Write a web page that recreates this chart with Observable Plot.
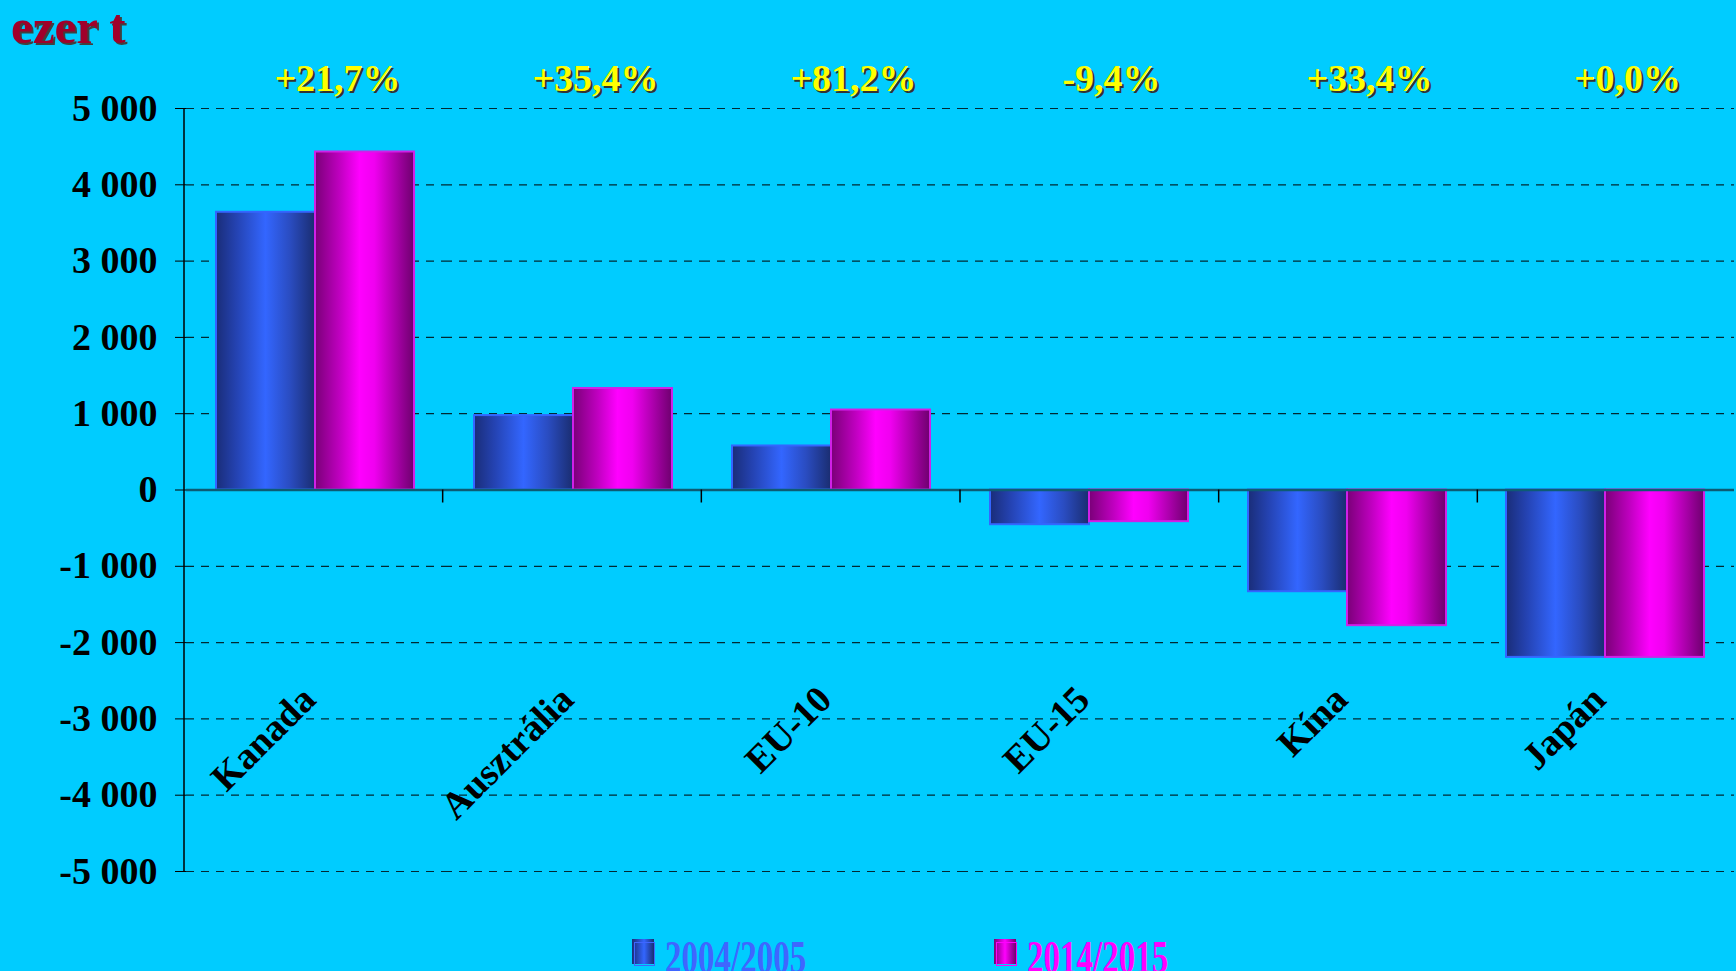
<!DOCTYPE html>
<html>
<head>
<meta charset="utf-8">
<script src="https://cdn.jsdelivr.net/npm/d3@7"></script>
<script src="https://cdn.jsdelivr.net/npm/@observablehq/plot@0.6"></script>
<style>
  html, body { margin: 0; padding: 0; background: #00ccff; overflow: hidden; }
  #wrap { position: relative; width: 1736px; height: 971px; }
  #title { position: absolute; left: 11px; top: 2px; font: bold 49px "Liberation Serif", serif; color: #a0002a;
           text-shadow: 2px 2px 0 #404040; line-height: 49px; }
  #legend { position: relative; height: 41px; }
  .sw { position: absolute; top: 9px; width: 22px; height: 25px; }
  .so { position: absolute; top: 12px; width: 21px; height: 24px; box-sizing: border-box; }
  .lt { position: absolute; top: 5px; font: bold 33px "Liberation Serif", serif; line-height: 1; transform: scaleY(1.4); transform-origin: left top; }
</style>
</head>
<body>
<div id="wrap">
  <div id="chart"></div>
  <div id="legend">
    <span class="sw" style="left:632px;background:linear-gradient(90deg,#1a2d78,#3366ff 55%,#1a2d70)"></span>
    <span class="so" style="left:634px;border:1.5px solid #3f66ff"></span>
    <span class="lt" style="left:665px;color:#3f66ff">2004/2005</span>
    <span class="sw" style="left:994px;background:linear-gradient(90deg,#7a0078,#ff00ff 50%,#6e006e)"></span>
    <span class="so" style="left:996px;border:1.5px solid #ff00ff"></span>
    <span class="lt" style="left:1027px;color:#ff00ff">2014/2015</span>
  </div>
  <div id="title">ezer t</div>
</div>
<script>
const categories = ["Kanada", "Ausztrália", "EU-10", "EU-15", "Kína", "Japán"];
const series = ["2004/2005", "2014/2015"];
const values2004 = [3640, 975, 577, -455, -1333, -2194];
const values2014 = [4430, 1330, 1048, -415, -1778, -2194];
const changeLabels = ["+21,7%", "+35,4%", "+81,2%", "-9,4%", "+33,4%", "+0,0%"];
const yTicks = [5000, 4000, 3000, 2000, 1000, 0, -1000, -2000, -3000, -4000, -5000];
const gridTicks = yTicks.filter(d => d !== 0);

const data = [];
categories.forEach((c, i) => {
  data.push({cat: c, series: series[0], value: values2004[i]});
  data.push({cat: c, series: series[1], value: values2014[i]});
});

const fmt = d => d3.format(",")(d).replace(/,/g, " ").replace("\u2212", "-");
const font = "'Liberation Serif', 'Times New Roman', serif";

const chart = Plot.plot({
  width: 1736,
  height: 930,
  marginTop: 108,
  marginBottom: 59,
  marginLeft: 184,
  marginRight: 0,
  style: {background: "transparent", fontFamily: font, fontSize: "38px", fontWeight: "bold", color: "#000", overflow: "visible"},
  fx: {domain: categories, padding: 0, axis: null},
  x: {domain: series, paddingInner: 0, paddingOuter: 0.3, axis: null},
  y: {domain: [-5000, 5000], ticks: yTicks, tickFormat: fmt, tickSize: 11, tickPadding: 18, label: null},
  marks: [
    Plot.ruleY(gridTicks, {stroke: "#000", strokeOpacity: 0.8, strokeWidth: 1.2, strokeDasharray: "8,7"}),
    Plot.barY(data.filter(d => d.series === series[0]), {fx: "cat", x: "series", y: "value",
      fill: "url(#gBlue)", stroke: "#3366ff", strokeWidth: 2}),
    Plot.barY(data.filter(d => d.series === series[1]), {fx: "cat", x: "series", y: "value",
      fill: "url(#gMag)", stroke: "#d020e8", strokeWidth: 2}),
    Plot.ruleY([0], {stroke: "#0d5b73", strokeWidth: 2.5}),
    Plot.text(categories, {fx: d => d, text: (d, i) => changeLabels[i], frameAnchor: "top", lineAnchor: "bottom",
      dy: -16, dx: 24, fill: "#333", fontSize: 38, fontWeight: "bold"}),
    Plot.text(categories, {fx: d => d, text: (d, i) => changeLabels[i], frameAnchor: "top", lineAnchor: "bottom",
      dy: -18, dx: 22, fill: "#ffff00", fontSize: 38, fontWeight: "bold"}),
    Plot.text(categories, {fx: d => d, text: d => d, y: -2500, textAnchor: "end", lineAnchor: "top",
      rotate: -45, dx: -17, dy: 2, fill: "#000", fontSize: 38, fontWeight: "bold"})
  ]
});

const svg = d3.select(chart);
svg.insert("defs", ":first-child").html(`
  <linearGradient id="gBlue" x1="0" x2="1" y1="0" y2="0">
    <stop offset="0" stop-color="#1a2d78"/>
    <stop offset="0.2" stop-color="#2442b0"/>
    <stop offset="0.5" stop-color="#3366ff"/>
    <stop offset="0.75" stop-color="#2a4cc0"/>
    <stop offset="1" stop-color="#1a2d70"/>
  </linearGradient>
  <linearGradient id="gMag" x1="0" x2="1" y1="0" y2="0">
    <stop offset="0" stop-color="#7a0078"/>
    <stop offset="0.25" stop-color="#c000c0"/>
    <stop offset="0.45" stop-color="#ff00ff"/>
    <stop offset="0.6" stop-color="#f000f0"/>
    <stop offset="1" stop-color="#6e006e"/>
  </linearGradient>`);

// category separator ticks and y-axis line, derived from Plot's own scales
const fxS = chart.scale("fx");
const yS = chart.scale("y");
const yMap = v => yS.range[0] + (v - yS.domain[0]) / (yS.domain[1] - yS.domain[0]) * (yS.range[1] - yS.range[0]);
const x0 = fxS.range[0];
const step = (fxS.range[1] - fxS.range[0]) / categories.length;
const g = svg.append("g").attr("stroke", "#000");
g.append("line").attr("x1", x0).attr("x2", x0).attr("y1", yMap(5000)).attr("y2", yMap(-5000)).attr("stroke-width", 1.5);
for (let i = 1; i < categories.length; i++) {
  const x = x0 + i * step;
  g.append("line").attr("x1", x).attr("x2", x).attr("y1", yMap(0)).attr("y2", yMap(0) + 13).attr("stroke-width", 1.5);
}

document.getElementById("chart").appendChild(chart);
</script>
</body>
</html>
